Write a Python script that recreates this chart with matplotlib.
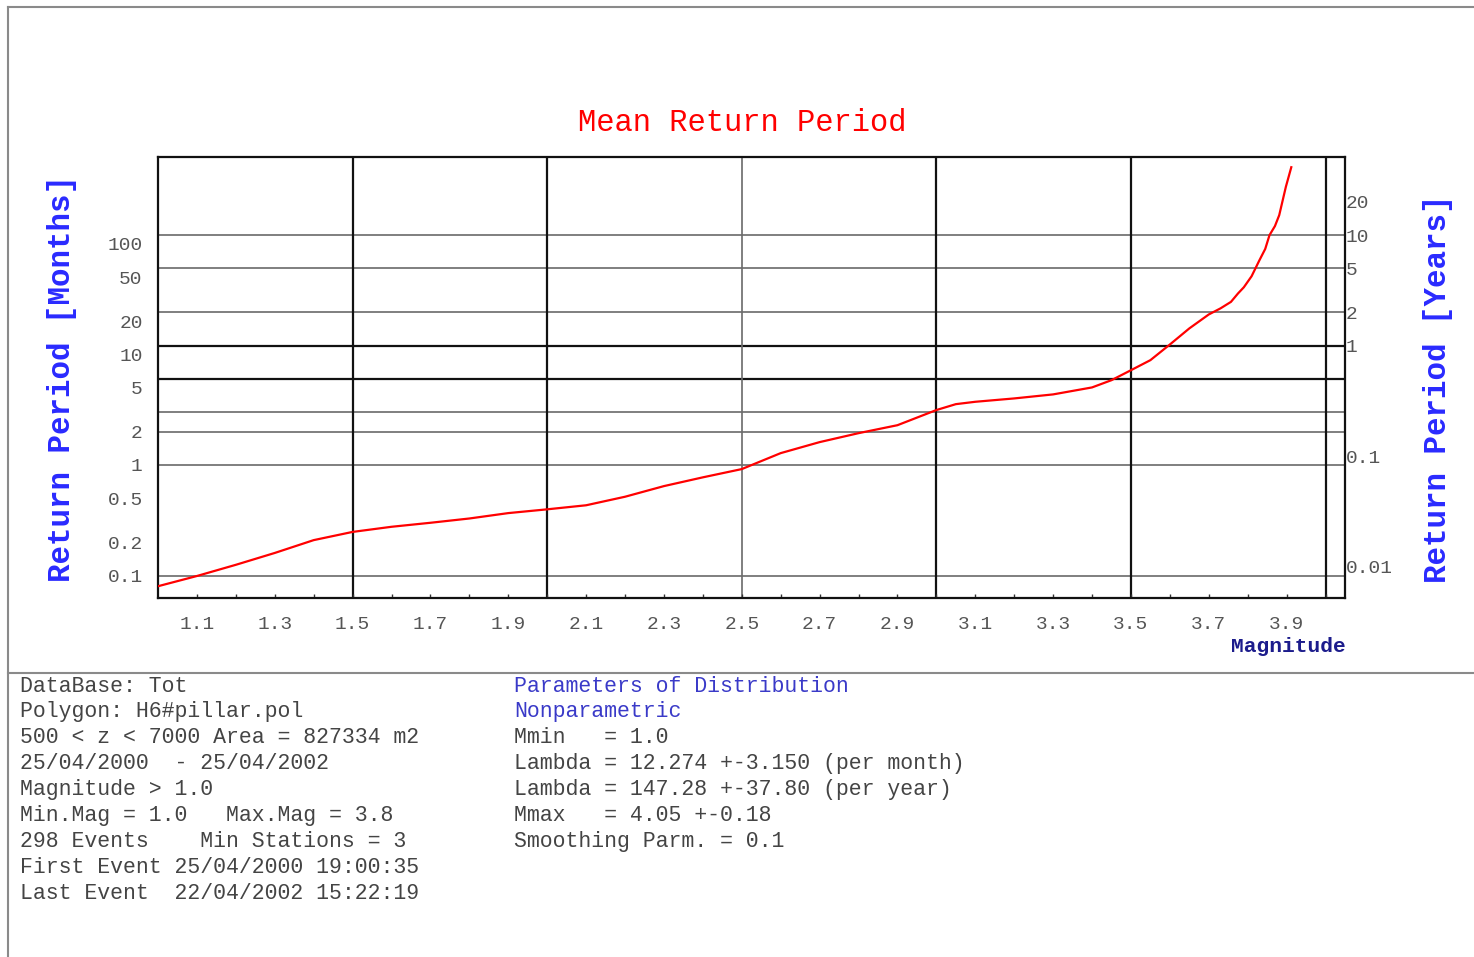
import matplotlib
matplotlib.use("Agg")
import matplotlib.pyplot as plt
from matplotlib.lines import Line2D
from matplotlib.ticker import FixedLocator, FixedFormatter

# --- donnees ---
magnitude = [1.0, 1.1, 1.2, 1.3, 1.4, 1.5, 1.6, 1.7, 1.8, 1.9, 2.0, 2.1, 2.2,
             2.3, 2.4, 2.5, 2.6, 2.7, 2.8, 2.9, 3.0, 3.05, 3.1, 3.2, 3.3, 3.4,
             3.45, 3.5, 3.55, 3.6, 3.65, 3.7, 3.73, 3.757, 3.775, 3.79, 3.81,
             3.83, 3.845, 3.856, 3.87, 3.881, 3.898, 3.912]
period_months = [0.080, 0.099, 0.125, 0.160, 0.209, 0.248, 0.276, 0.300, 0.328,
                 0.367, 0.397, 0.432, 0.516, 0.644, 0.773, 0.918, 1.28, 1.61,
                 1.94, 2.29, 3.14, 3.55, 3.73, 4.0, 4.35, 5.03, 5.85, 7.2, 8.88,
                 12.3, 17.2, 23.0, 26.1, 29.9, 35.6, 40.5, 51.0, 71.0, 90.0,
                 120, 145, 182, 328, 494]

x_labels = [1.1, 1.3, 1.5, 1.7, 1.9, 2.1, 2.3, 2.5, 2.7, 2.9, 3.1, 3.3, 3.5, 3.7, 3.9]
x_minor = [1.2, 1.4, 1.6, 1.8, 2.0, 2.2, 2.4, 2.6, 2.8, 3.0, 3.2, 3.4, 3.6, 3.8, 4.0]
months_ticks = [100, 50, 20, 10, 5, 2, 1, 0.5, 0.2, 0.1]
months_tick_labels = ["100", "50", "20", "10", "5", "2", "1", "0.5", "0.2", "0.1"]
years_ticks = [20, 10, 5, 2, 1, 0.1, 0.01]
years_tick_labels = ["20", "10", "5", "2", "1", "0.1", "0.01"]

hgrid_thin = [120, 60, 24, 3, 2, 1, 0.1]   # mois
hgrid_thick = [12, 6]
vgrid_thick = [1.5, 2.0, 3.0, 3.5, 4.0]
vgrid_thin = [2.5]

info_left = [
    "DataBase: Tot",
    "Polygon: H6#pillar.pol",
    "500 < z < 7000 Area = 827334 m2",
    "25/04/2000  - 25/04/2002",
    "Magnitude > 1.0",
    "Min.Mag = 1.0   Max.Mag = 3.8",
    "298 Events    Min Stations = 3",
    "First Event 25/04/2000 19:00:35",
    "Last Event  22/04/2002 15:22:19",
]
info_right = [
    ("Parameters of Distribution", "#3a3ac8"),
    ("Nonparametric", "#3a3ac8"),
    ("Mmin   = 1.0", "#444444"),
    ("Lambda = 12.274 +-3.150 (per month)", "#444444"),
    ("Lambda = 147.28 +-37.80 (per year)", "#444444"),
    ("Mmax   = 4.05 +-0.18", "#444444"),
    ("Smoothing Parm. = 0.1", "#444444"),
]

MONO = ["Liberation Mono", "DejaVu Sans Mono"]
W, H = 1474, 957

fig = plt.figure(figsize=(W / 100, H / 100), dpi=100)
fig.patch.set_facecolor("white")


def fx(px):
    return px / W


def fy(py):
    return 1 - py / H


ax = fig.add_axes([fx(158), fy(597.7), fx(1345 - 158), (597.7 - 156.7) / H])
ax.set_yscale("log")
ymin, ymax = 0.063, 615
ax.set_ylim(ymin, ymax)
ax.set_xlim(1.0, 4.05)

for v in hgrid_thin:
    ax.axhline(v, color="#6a6a6a", lw=1.2, zorder=1)
for v in hgrid_thick:
    ax.axhline(v, color="#111111", lw=1.6, zorder=1)
for v in vgrid_thick:
    ax.axvline(v, color="#111111", lw=1.6, zorder=1)
for v in vgrid_thin:
    ax.axvline(v, color="#6a6a6a", lw=1.2, zorder=1)

ax.plot(magnitude, period_months, color="#ff0000", lw=1.6, zorder=3)

for s in ax.spines.values():
    s.set_color("#111111")
    s.set_linewidth(1.6)

# axe x
ax.xaxis.set_major_locator(FixedLocator(x_labels))
ax.xaxis.set_major_formatter(FixedFormatter([f"{v:.1f}" for v in x_labels]))
ax.xaxis.set_minor_locator(FixedLocator(x_minor))
ax.tick_params(axis="x", which="both", direction="in", length=3, width=1,
               color="#333333", pad=13)
ax.tick_params(axis="x", which="major", labelsize=14, labelcolor="#555555")

# axe y gauche (mois)
ax.yaxis.set_major_locator(FixedLocator(months_ticks))
ax.yaxis.set_major_formatter(FixedFormatter(months_tick_labels))
ax.yaxis.set_minor_locator(FixedLocator([]))
ax.tick_params(axis="y", which="both", length=0, pad=11, labelsize=14,
               labelcolor="#555555")

# axe y droit (annees)
ax2 = ax.twinx()
ax2.set_yscale("log")
ax2.set_ylim(ymin / 12, ymax / 12)
ax2.yaxis.set_major_locator(FixedLocator(years_ticks))
ax2.yaxis.set_major_formatter(FixedFormatter(years_tick_labels))
ax2.yaxis.set_minor_locator(FixedLocator([]))
ax2.tick_params(axis="y", which="both", length=0, pad=0.5, labelsize=14,
                labelcolor="#555555")
for s in ax2.spines.values():
    s.set_visible(False)

for a in (ax, ax2):
    for lab in a.get_xticklabels() + a.get_yticklabels():
        lab.set_family(MONO)

# textes
fig.text(fx(742), fy(123), "Mean Return Period", color="#ff0000", fontsize=22,
         family=MONO, ha="center", va="center")
fig.text(fx(62), fy(379), "Return Period [Months]", color="#2a2aff", fontsize=22.2,
         family=MONO, weight="bold", rotation=90, ha="center", va="center")
fig.text(fx(1438), fy(389), "Return Period [Years]", color="#2a2aff", fontsize=22.2,
         family=MONO, weight="bold", rotation=90, ha="center", va="center")
fig.text(fx(1346), fy(646), "Magnitude", color="#1c1c8c", fontsize=15.3,
         family=MONO, weight="bold", ha="right", va="center")

for i, line in enumerate(info_left):
    fig.text(fx(20), fy(686 + i * 25.9), line, color="#444444", fontsize=15.5,
             family=MONO, ha="left", va="center")
for i, (line, col) in enumerate(info_right):
    fig.text(fx(514), fy(686 + i * 25.9), line, color=col, fontsize=15.5,
             family=MONO, ha="left", va="center")

# cadre gris
for xs, ys in [((8, W), (7, 7)), ((8, 8), (7, H)), ((8, W), (673, 673))]:
    fig.add_artist(Line2D([fx(v) for v in xs], [fy(v) for v in ys],
                          color="#8a8a8a", lw=1.5))

fig.savefig("out.png", dpi=100, facecolor="white")
